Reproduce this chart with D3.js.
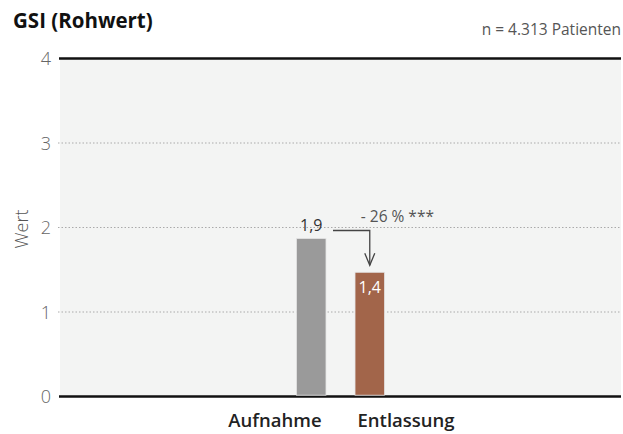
<!DOCTYPE html>
<html><head><meta charset="utf-8">
<script src="https://cdn.jsdelivr.net/npm/d3@7"></script>
<style>
body{margin:0;background:#fff;}
svg{display:block;font-family:"Open Sans",sans-serif;}
</style></head>
<body><svg id="c" width="623" height="434"></svg>
<script>
(function(){
const categories = ["Aufnahme", "Entlassung"];
const values = [1.87, 1.47];
const valueLabels = ["1,9", "1,4"];
const yTicks = [0, 1, 2, 3, 4];
const changeLabel = "- 26 % ***";
const title = "GSI (Rohwert)";
const subtitle = "n = 4.313 Patienten";
const yTitle = "Wert";
const colors = ["#9a9a9a", "#a2654a"];

const svg = d3.select("#c");
const pLeft = 60, pRight = 621, pTop = 58.5, pBottom = 396.5;

const y = d3.scaleLinear().domain([0, 4]).range([pBottom, pTop]);
const xBar = d3.scaleBand().domain(categories).range([pLeft, pRight]).paddingInner(0.496).paddingOuter(4.04);
const xLab = d3.scalePoint().domain(categories).range([pLeft, pRight]).padding(1.64);

svg.append("rect").attr("x", pLeft).attr("y", pTop).attr("width", pRight - pLeft).attr("height", pBottom - pTop).attr("fill", "#f3f4f3");

// gridlines
svg.append("g").selectAll("line").data(yTicks.filter(d => d > 0 && d < 4)).join("line")
  .attr("x1", pLeft - 2).attr("x2", pRight).attr("y1", d => y(d)).attr("y2", d => y(d))
  .attr("stroke", "#aaa").attr("stroke-width", 1).attr("stroke-dasharray", "1.5,2");
// top & bottom lines
svg.append("g").selectAll("line").data([0, 4]).join("line")
  .attr("x1", pLeft - 1).attr("x2", pRight).attr("y1", d => y(d)).attr("y2", d => y(d))
  .attr("stroke", "#111").attr("stroke-width", 2.6);

// y tick labels
svg.append("g").selectAll("text").data(yTicks).join("text")
  .attr("x", 51).attr("y", d => y(d) + 6.5).attr("text-anchor", "end")
  .attr("font-size", 18).attr("font-weight", 300).attr("fill", "#666").text(d => d);

svg.append("text").attr("transform", `translate(28,229) rotate(-90)`).attr("text-anchor", "middle")
  .attr("font-size", 18).attr("font-weight", 300).attr("fill", "#555").text(yTitle);

// bars
svg.append("g").selectAll("rect").data(values).join("rect")
  .attr("x", (d, i) => xBar(categories[i])).attr("width", xBar.bandwidth())
  .attr("y", d => y(d)).attr("height", d => y(0) - y(d) - 1.3)
  .attr("fill", (d, i) => colors[i]).attr("stroke", "#e4e4e4").attr("stroke-width", 0.8);

// value labels
svg.append("text").attr("x", xBar(categories[0]) + xBar.bandwidth() / 2).attr("y", y(values[0]) - 7)
  .attr("text-anchor", "middle").attr("font-size", 16).attr("fill", "#333").text(valueLabels[0]);
svg.append("text").attr("x", xBar(categories[1]) + xBar.bandwidth() / 2).attr("y", y(values[1]) + 21)
  .attr("text-anchor", "middle").attr("font-size", 16).attr("fill", "#fff").text(valueLabels[1]);

// arrow
const ax = xBar(categories[1]) + xBar.bandwidth() / 2;
const ay = y(values[0]) - 8;
const x0 = xBar(categories[0]) + xBar.bandwidth() + 7;
const yEnd = y(values[1]) - 7;
svg.append("path").attr("d", `M${x0},${ay}H${ax}V${yEnd}`).attr("fill", "none").attr("stroke", "#444").attr("stroke-width", 1.3);
svg.append("path").attr("d", `M${ax - 5},${yEnd - 12}L${ax},${yEnd}L${ax + 5},${yEnd - 12}`).attr("fill", "none").attr("stroke", "#444").attr("stroke-width", 1.3);
svg.append("text").attr("x", ax - 9).attr("y", ay - 8).attr("font-size", 15.5).attr("fill", "#555").text(changeLabel);

// x labels
svg.append("g").selectAll("text").data(categories).join("text")
  .attr("x", d => xLab(d)).attr("y", 427).attr("text-anchor", "middle")
  .attr("font-size", 18.5).attr("font-weight", 600).attr("fill", "#222").text(d => d);

// titles
svg.append("text").attr("x", 13).attr("y", 28).attr("font-size", 20.5).attr("font-weight", 700).attr("fill", "#111").text(title);
svg.append("text").attr("x", 621).attr("y", 35).attr("text-anchor", "end").attr("font-size", 15.5).attr("fill", "#555").text(subtitle);
})();
</script></body></html>
